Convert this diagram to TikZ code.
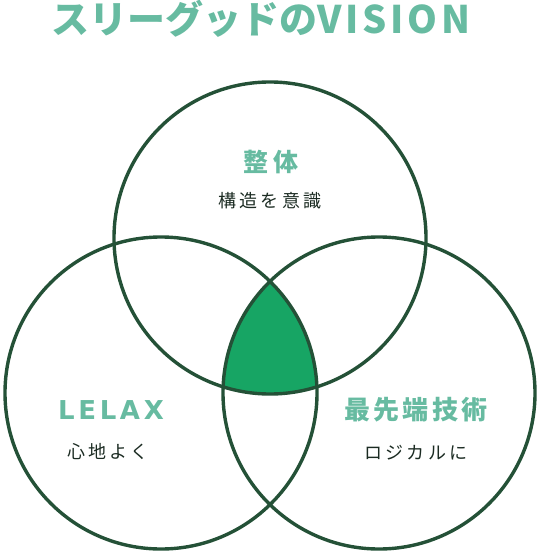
\documentclass[tikz,border=0pt]{standalone}
\usepackage{fontspec}
\setmainfont{Noto Sans CJK JP}
\newfontfamily\jp{Noto Sans CJK JP}
\newfontfamily\jpsp[LetterSpace=18]{Noto Sans CJK JP}
\newfontfamily\latsp[LetterSpace=14]{DejaVu Sans}
\definecolor{ringgreen}{HTML}{245137}
\definecolor{fillgreen}{HTML}{17A564}
\definecolor{teal}{HTML}{67BBA1}
\definecolor{subtext}{HTML}{1B2B22}
\tikzset{
  ring/.style={circle, draw=ringgreen, line width=3.4pt, minimum size=312pt, inner sep=0pt},
  heading/.style={text=teal, inner sep=0pt, font=\jpsp\bfseries\fontsize{25}{25}\selectfont},
  subline/.style={text=subtext, inner sep=0pt, font=\jpsp\fontsize{18}{18}\selectfont},
}
\begin{document}
\begin{tikzpicture}[x=1pt,y=-1pt]
\useasboundingbox (0,0) rectangle (540,553);
% intersection fill
\coordinate (ct) at (270,238);
\coordinate (cl) at (161,393);
\coordinate (cr) at (379,393);
\begin{scope}
  \clip (ct) circle[radius=156pt];
  \clip (cl) circle[radius=156pt];
  \fill[fillgreen] (cr) circle[radius=156pt];
\end{scope}
\node[ring] (top) at (ct) {};
\node[ring] (left) at (cl) {};
\node[ring] (right) at (cr) {};
% title
\node[text=teal, inner sep=0pt, font=\jp\bfseries\fontsize{38}{38}\selectfont] (title) at (261,19) {スリーグッドの{\addfontfeature{LetterSpace=10}VISION}};
% labels
\node[heading] (h1) at (271,162) {整体};
\node[subline] (s1) at (270,201) {構造を意識};
\node[heading, font=\latsp\bfseries\fontsize{26}{26}\selectfont] (h2) at (111,410) {LELAX};
\node[subline] (s2) at (108,452) {心地よく};
\node[heading, font={\jp\bfseries\addfontfeature{LetterSpace=12}\fontsize{26}{26}\selectfont}] (h3) at (416,410) {最先端技術};
\node[subline] (s3) at (416,453) {ロジカルに};
\end{tikzpicture}
\end{document}
